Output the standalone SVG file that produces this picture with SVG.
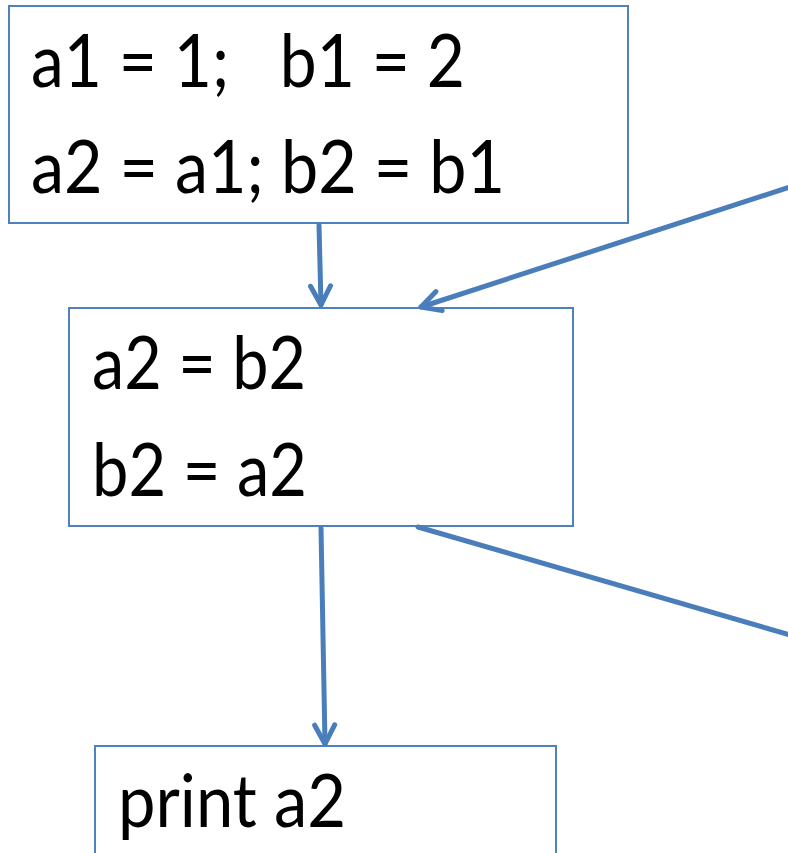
<svg xmlns="http://www.w3.org/2000/svg" width="788" height="853" viewBox="0 0 788 853">
<style>
.box{fill:#fff;stroke:#4f81bd;stroke-width:2}
.t{font-family:"Lato","Open Sans","Liberation Sans",sans-serif;font-size:74px;fill:#000}
.c{stroke:#4a7ebb;stroke-width:5;fill:none;stroke-linecap:round}
</style>
<defs>
<marker id="ah" markerUnits="userSpaceOnUse" viewBox="-24 -14 28 28" refX="0" refY="0" markerWidth="28" markerHeight="28" orient="auto">
<polyline points="-19,-10 0,0 -19,10" fill="none" stroke="#4a7ebb" stroke-width="5" stroke-linecap="round" stroke-linejoin="round"/>
</marker>
</defs>
<g id="node1">
<rect class="box" x="9" y="6" width="619" height="217"/>
<text class="t" x="31" y="87" textLength="434" lengthAdjust="spacingAndGlyphs" xml:space="preserve">a1 = 1;   b1 = 2</text>
<text class="t" x="31" y="193" textLength="474" lengthAdjust="spacingAndGlyphs">a2 = a1; b2 = b1</text>
</g>
<g id="node2">
<rect class="box" x="69" y="308" width="504" height="218"/>
<text class="t" x="92" y="389" textLength="214" lengthAdjust="spacingAndGlyphs">a2 = b2</text>
<text class="t" x="92" y="496" textLength="215" lengthAdjust="spacingAndGlyphs">b2 = a2</text>
</g>
<g id="node3">
<rect class="box" x="95" y="746" width="461" height="120"/>
<text class="t" x="118" y="827" textLength="228" lengthAdjust="spacingAndGlyphs">print a2</text>
</g>
<g id="connectors">
<line class="c" x1="319" y1="225" x2="321" y2="305" marker-end="url(#ah)"/>
<line class="c" x1="790" y1="187" x2="421" y2="307" marker-end="url(#ah)"/>
<line class="c" x1="321" y1="528" x2="325" y2="744" marker-end="url(#ah)"/>
<line class="c" x1="418" y1="527" x2="790" y2="635"/>
</g>
</svg>
